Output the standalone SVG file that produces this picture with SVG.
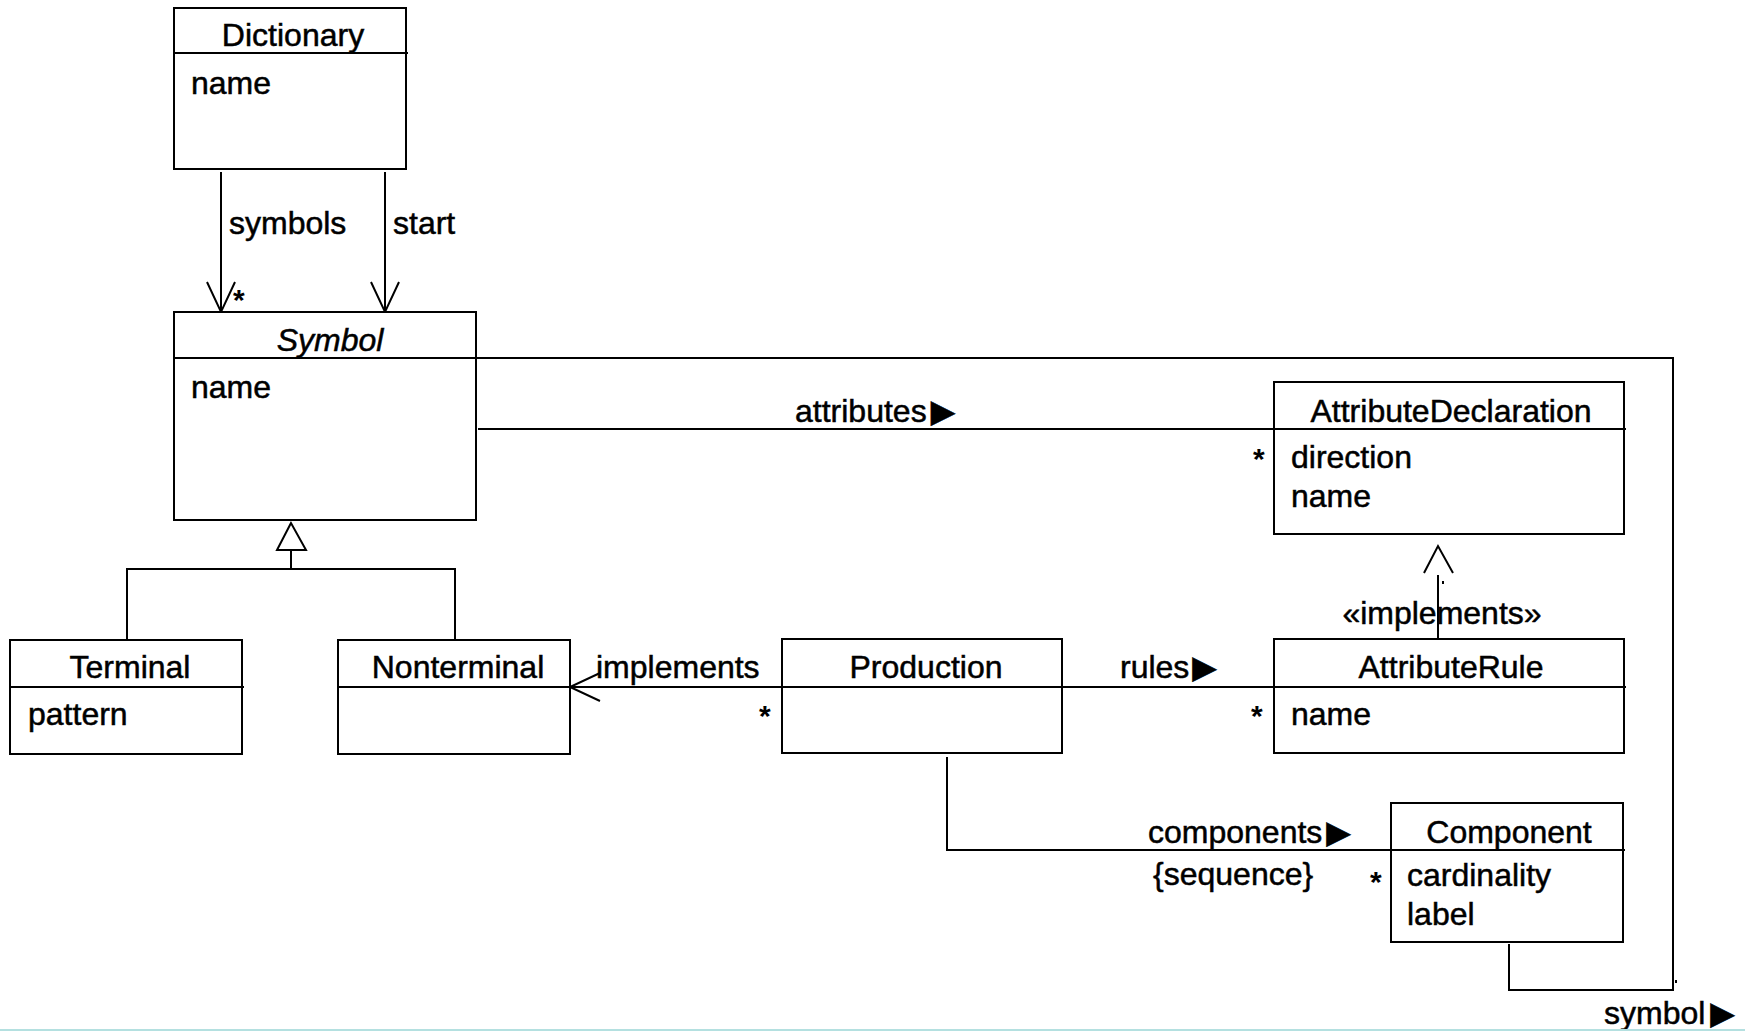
<svg xmlns="http://www.w3.org/2000/svg" width="1745" height="1031" viewBox="0 0 1745 1031">
<style>
text{font-family:"Liberation Sans","DejaVu Sans",Arial,sans-serif;font-size:32px;fill:#000;stroke:#000;stroke-width:0.5}
.c{text-anchor:middle}
.m{font-weight:bold;font-size:30px;stroke-width:0}
.box{fill:#fff;stroke:#000;stroke-width:2}
.ln{fill:none;stroke:#000;stroke-width:2}
.it{font-style:italic}
</style>
<rect width="1745" height="1031" fill="#fff"/>
<g id="connectors">
<line class="ln" x1="221" y1="172" x2="221" y2="312"/>
<polyline class="ln" points="207,282 221,312 235,282"/>
<line class="ln" x1="385" y1="172" x2="385" y2="312"/>
<polyline class="ln" points="371,282 385,312 399,282"/>
<text x="229" y="234">symbols</text>
<text x="393" y="234">start</text>
<text class="m" x="233" y="310">*</text>
<polygon class="box" points="291,523 277,550 306,550"/>
<polyline class="ln" points="291,550 291,569"/>
<polyline class="ln" points="127,640 127,569 455,569 455,640"/>
<line class="ln" x1="478" y1="429" x2="1274" y2="429"/>
<text x="795" y="422">attributes<tspan dx="4">▶</tspan></text>
<text class="m" x="1253" y="469">*</text>
<polyline class="ln" points="476,358 1673,358 1673,990 1509,990 1509,944"/>
<rect x="1675" y="980" width="2" height="3" fill="#000"/>
<text x="1604" y="1024">symbol<tspan dx="5">▶</tspan></text>
<line class="ln" x1="570" y1="687" x2="782" y2="687"/>
<polyline class="ln" points="600,673 570,687 600,701"/>
<text x="596" y="678">implements</text>
<text class="m" x="759" y="726">*</text>
<line class="ln" x1="1062" y1="687" x2="1274" y2="687"/>
<text x="1120" y="678">rules<tspan dx="3">▶</tspan></text>
<text class="m" x="1251" y="726">*</text>
<polyline class="ln" points="947,757 947,850 1391,850"/>
<text x="1148" y="843">components<tspan dx="4">▶</tspan></text>
<text x="1153" y="885">{sequence}</text>
<text class="m" x="1370" y="892">*</text>
<line class="ln" x1="1438" y1="575" x2="1438" y2="639"/>
<polyline class="ln" points="1424,573 1438,546 1453,573"/>
<rect x="1442" y="581" width="2" height="3" fill="#000"/>
<text class="c" x="1442" y="624">«implements»</text>
</g>
<g id="Dictionary">
<rect class="box" x="174" y="8" width="232" height="161"/>
<line class="ln" x1="174" y1="53" x2="408" y2="53"/>
<text class="c" x="293" y="46">Dictionary</text>
<text x="191" y="94">name</text>
</g>
<g id="Symbol">
<rect class="box" x="174" y="312" width="302" height="208"/>
<line class="ln" x1="174" y1="358" x2="476" y2="358"/>
<text class="c it" x="330" y="351">Symbol</text>
<text x="191" y="398">name</text>
</g>
<g id="AttributeDeclaration">
<rect class="box" x="1274" y="382" width="350" height="152"/>
<line class="ln" x1="1274" y1="429" x2="1626" y2="429"/>
<text class="c" x="1451" y="422">AttributeDeclaration</text>
<text x="1291" y="468">direction</text>
<text x="1291" y="507">name</text>
</g>
<g id="Terminal">
<rect class="box" x="10" y="640" width="232" height="114"/>
<line class="ln" x1="10" y1="687" x2="244" y2="687"/>
<text class="c" x="130" y="678">Terminal</text>
<text x="28" y="725">pattern</text>
</g>
<g id="Nonterminal">
<rect class="box" x="338" y="640" width="232" height="114"/>
<line class="ln" x1="338" y1="687" x2="570" y2="687"/>
<text class="c" x="458" y="678">Nonterminal</text>
</g>
<g id="Production">
<rect class="box" x="782" y="639" width="280" height="114"/>
<line class="ln" x1="782" y1="687" x2="1062" y2="687"/>
<text class="c" x="926" y="678">Production</text>
</g>
<g id="AttributeRule">
<rect class="box" x="1274" y="639" width="350" height="114"/>
<line class="ln" x1="1274" y1="687" x2="1626" y2="687"/>
<text class="c" x="1451" y="678">AttributeRule</text>
<text x="1291" y="725">name</text>
</g>
<g id="Component">
<rect class="box" x="1391" y="803" width="232" height="139"/>
<line class="ln" x1="1391" y1="850" x2="1625" y2="850"/>
<text class="c" x="1509" y="843">Component</text>
<text x="1407" y="886">cardinality</text>
<text x="1407" y="925">label</text>
</g>
<line x1="0" y1="1030" x2="1745" y2="1030" stroke="#b4e0e0" stroke-width="2"/>
</svg>
